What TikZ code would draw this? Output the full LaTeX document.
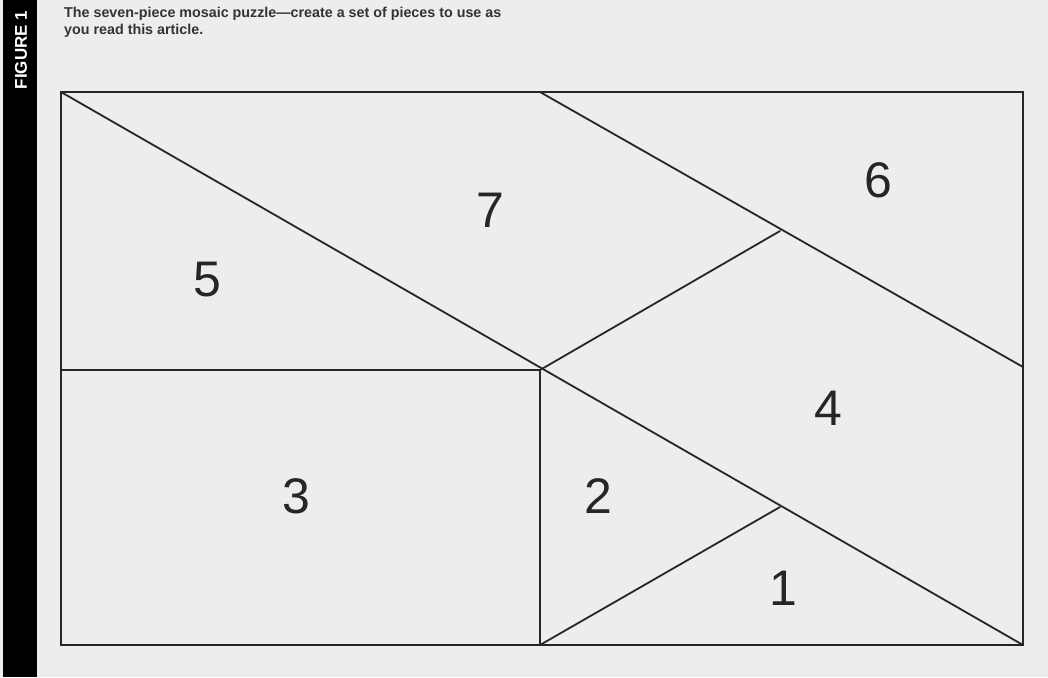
\documentclass[tikz,border=0pt]{standalone}
\usepackage{fontspec}
\setmainfont{Liberation Sans}
\begin{document}
\begin{tikzpicture}[x=1pt,y=-1pt,
  edge/.style={line width=1.8pt,color=black!85,line join=miter,line cap=round},
  num/.style={font=\fontsize{50}{56}\selectfont,text=black!85,inner sep=0pt},
  caption/.style={font=\bfseries\fontsize{14.3}{17}\selectfont,text=black!80,align=left,anchor=north west,inner sep=0pt}]
\fill[gray!14] (0,0) rectangle (1048,677);
\useasboundingbox (0,0) rectangle (1048,677);
\fill[black] (3,0) rectangle (37,677);
\node[rotate=90,text=white,font=\bfseries\fontsize{17}{20}\selectfont,inner sep=0pt] (fig) at (21,50) {FIGURE 1};
\node[caption] (cap) at (64,7) {The seven-piece mosaic puzzle---create a set of pieces to use as\\you read this article.};
% corners and points
\coordinate (tl) at (61,92);
\coordinate (tr) at (1023,92);
\coordinate (br) at (1023,645);
\coordinate (bl) at (61,645);
\coordinate (tm) at (540,92);
\coordinate (ml) at (61,370);
\coordinate (c) at (540,370);
\coordinate (mr) at (1023,367);
\coordinate (bm) at (540,645);
\coordinate (p) at (780,231);
\coordinate (q) at (780,507);
\draw[edge] (tl) rectangle (br);
\draw[edge] (tl) -- (br);
\draw[edge] (tm) -- (mr);
\draw[edge] (ml) -- (c) -- (bm);
\draw[edge] (c) -- (p);
\draw[edge] (bm) -- (q);
\node[num] (n7) at (490,210) {7};
\node[num] (n6) at (878,180) {6};
\node[num] (n5) at (207,280) {5};
\node[num] (n4) at (828,408) {4};
\node[num] (n3) at (296,496) {3};
\node[num] (n2) at (598,496) {2};
\node[num] (n1) at (783,588) {1};
\end{tikzpicture}
\end{document}
